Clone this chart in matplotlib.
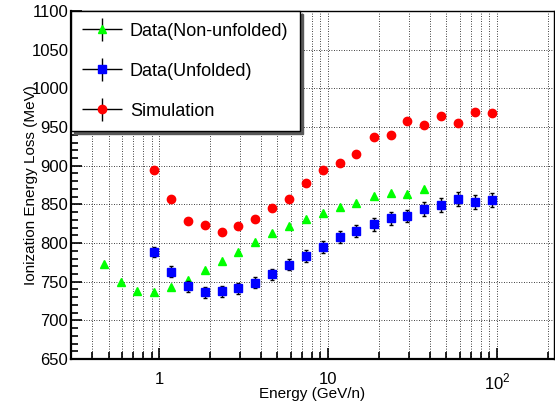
import numpy as np
import matplotlib
matplotlib.use("Agg")
import matplotlib.pyplot as plt
from matplotlib.ticker import MultipleLocator, LogLocator, NullFormatter, FixedLocator, FixedFormatter
from matplotlib.legend_handler import HandlerErrorbar

plt.rcParams['font.family'] = ['Liberation Sans', 'DejaVu Sans']
plt.rcParams['mathtext.fontset'] = 'custom'
plt.rcParams['mathtext.rm'] = 'Liberation Sans'

# energy bin centres (GeV/n), 10 bins per decade
energy = [0.47, 0.59, 0.74, 0.93, 1.17, 1.47, 1.86, 2.34, 2.94, 3.70, 4.66, 5.87,
          7.39, 9.30, 11.7, 14.7, 18.6, 23.4, 29.4, 37.0, 46.6, 58.7, 73.9, 93.0]

# Data (Non-unfolded): first 20 bins
nonunf = [772.5, 750.0, 737.8, 736.5, 742.6, 752.6, 764.7, 776.4, 788.5, 801.0,
          812.4, 821.5, 830.6, 839.3, 846.7, 851.9, 861.4, 865.3, 863.2, 870.5]

# Data (Unfolded): bins from 0.93 GeV/n
unf = [788.5, 763.0, 743.9, 736.5, 737.8, 741.3, 748.6, 759.5, 772.1, 782.9, 795.0,
       807.6, 815.8, 824.1, 831.9, 834.9, 844.0, 849.2, 856.6, 853.1, 855.7]
unf_err = [7, 7, 7, 7, 7, 7, 7, 7, 7, 7.5, 7.5,
           8, 8, 8, 8, 8, 8.5, 8.5, 9, 8.5, 8.5]

# Simulation: bins from 0.93 GeV/n
sim = [894.8, 857.5, 828.8, 823.0, 814.0, 821.9, 830.6, 845.7, 856.6, 877.5, 893.9,
       903.0, 915.2, 937.3, 940.3, 957.6, 952.9, 963.7, 955.9, 969.0, 968.2]

fig = plt.figure(figsize=(5.55, 4.03), dpi=100)
ax = fig.add_axes([0.128, 0.109, 0.870, 0.8635])

ax.set_xscale('log')
ax.set_xlim(0.3, 217)
ax.set_ylim(650, 1100)

x_nonunf = energy[:len(nonunf)]
x_rest = energy[3:]

ax.plot(x_nonunf, nonunf, linestyle='none', marker='^', ms=6, color='#00ff00',
        mec='#00ff00', zorder=3)
ax.errorbar(x_rest, unf, yerr=unf_err, fmt='s', ms=5.5, color='#0000ff',
            ecolor='black', elinewidth=1, capsize=1.5, capthick=1, zorder=3)
ax.plot(x_rest, sim, linestyle='none', marker='o', ms=6, color='#ff0000',
        mec='#ff0000', zorder=3)

# ticks, ROOT style
ax.xaxis.set_major_locator(FixedLocator([1, 10, 100]))
ax.xaxis.set_major_formatter(FixedFormatter(['1', '10', '$10^{2}$']))
ax.xaxis.set_minor_locator(LogLocator(base=10, subs=np.arange(2, 10), numticks=20))
ax.xaxis.set_minor_formatter(NullFormatter())
ax.yaxis.set_major_locator(MultipleLocator(50))
ax.yaxis.set_minor_locator(MultipleLocator(10))

ax.tick_params(which='both', direction='in', top=False, right=False, width=1.2)
ax.tick_params(which='major', length=8)
ax.tick_params(which='minor', length=5)
ax.tick_params(axis='x', which='major', labelsize=12, pad=9)
ax.tick_params(axis='y', which='major', labelsize=12, pad=2)

ax.grid(True, axis='x', which='both', linestyle=(0, (1, 2)), color='black', linewidth=0.6)
ax.grid(True, axis='y', which='major', linestyle=(0, (1, 2)), color='black', linewidth=0.6)
ax.set_axisbelow(True)

for side in ['left', 'bottom']:
    ax.spines[side].set_linewidth(1.6)
for side in ['top', 'right']:
    ax.spines[side].set_linewidth(1.0)

ax.set_xlabel('Energy (GeV/n)', fontsize=11)
ax.xaxis.set_label_coords(0.5, -0.10)
ax.xaxis.label.set_va('center')
ax.set_ylabel('Ionization Energy Loss (MeV)', fontsize=11)
ax.yaxis.set_label_coords(-0.083, 0.5)
ax.yaxis.label.set_va('center')

# legend proxies with cross-shaped error bars
h1 = ax.errorbar([np.nan], [np.nan], xerr=[1], yerr=[1], fmt='^', ms=6, color='#00ff00',
                 ecolor='black', elinewidth=1)
h2 = ax.errorbar([np.nan], [np.nan], xerr=[1], yerr=[1], fmt='s', ms=5.5, color='#0000ff',
                 ecolor='black', elinewidth=1)
h3 = ax.errorbar([np.nan], [np.nan], xerr=[1], yerr=[1], fmt='o', ms=6, color='#ff0000',
                 ecolor='black', elinewidth=1)
leg = ax.legend([h1, h2, h3], ['Data(Non-unfolded)', 'Data(Unfolded)', 'Simulation'],
                loc='upper left', bbox_to_anchor=(0, 1), borderaxespad=0,
                fontsize=13, fancybox=False, edgecolor='black', framealpha=1,
                handlelength=2.1, handletextpad=0.5, labelspacing=1.27,
                borderpad=0.65, shadow={'color': '0.35', 'alpha': 1},
                handler_map={type(h1): HandlerErrorbar(xerr_size=1.1, yerr_size=0.65)})
leg.get_frame().set_linewidth(1.0)
leg.set_zorder(5)

fig.savefig('out.png', dpi=100)
